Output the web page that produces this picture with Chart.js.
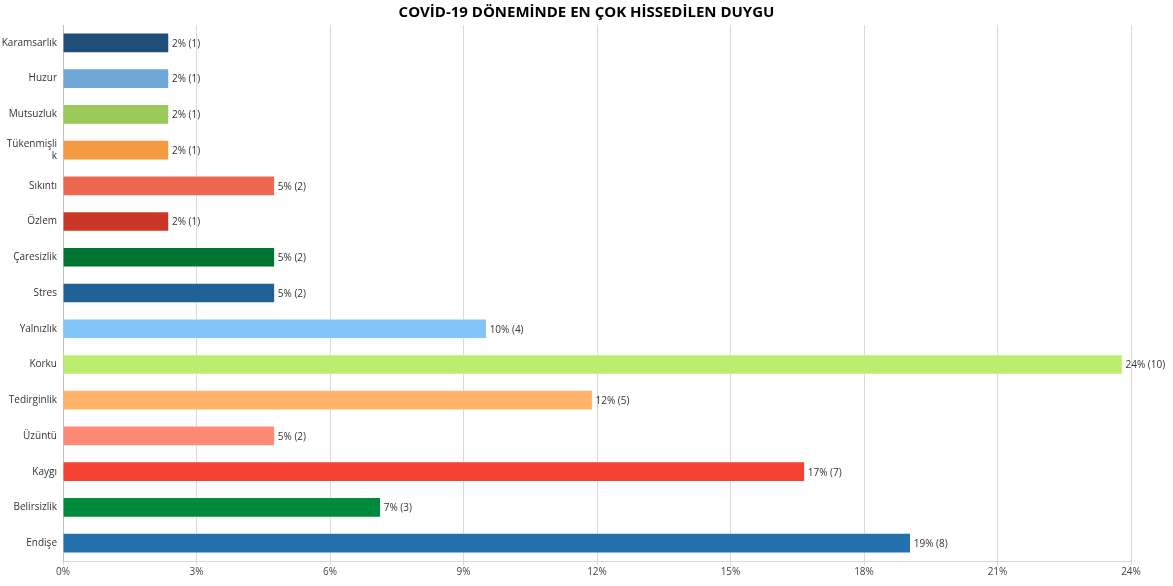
<!DOCTYPE html>
<html lang="tr">
<head>
<meta charset="utf-8">
<title>COVİD-19 Döneminde En Çok Hissedilen Duygu</title>
<script src="https://cdn.jsdelivr.net/npm/chart.js@4"></script>
<style>
  html, body { margin: 0; padding: 0; background: #fff; }
  canvas { display: block; }
</style>
</head>
<body>
<canvas id="grafikDuygu" width="1173" height="586"></canvas>
<script>
const duygular = ['Karamsarlık', 'Huzur', 'Mutsuzluk', ['Tükenmişli', 'k'], 'Sıkıntı', 'Özlem',
  'Çaresizlik', 'Stres', 'Yalnızlık', 'Korku', 'Tedirginlik', 'Üzüntü', 'Kaygı', 'Belirsizlik', 'Endişe'];
const yuzdeler = [2.38, 2.38, 2.38, 2.38, 4.76, 2.38, 4.76, 4.76, 9.52, 23.81, 11.9, 4.76, 16.67, 7.14, 19.05];
const kisiSayisi = [1, 1, 1, 1, 2, 1, 2, 2, 4, 10, 5, 2, 7, 3, 8];
const renkler = ['#1f4e79', '#6fa8d6', '#9bc95a', '#f49a42', '#ee6750', '#cb3727', '#007433', '#206298',
  '#82c5f9', '#bbee6e', '#ffb26a', '#ff8a77', '#f44233', '#008a3e', '#2571b0'];
const eksenTikleri = [0, 3, 6, 9, 12, 15, 18, 21, 24];

const yaziTipi = "'Open Sans', 'Noto Sans', sans-serif";

// bar sonuna "2% (1)" etiketini yazar
const degerEtiketi = {
  id: 'degerEtiketi',
  afterDatasetsDraw(chart) {
    const ctx = chart.ctx;
    const meta = chart.getDatasetMeta(0);
    ctx.save();
    ctx.font = '10px ' + yaziTipi;
    ctx.fillStyle = '#333';
    ctx.textAlign = 'left';
    ctx.textBaseline = 'middle';
    meta.data.forEach((bar, i) => {
      const metin = Math.round(yuzdeler[i]) + '% (' + kisiSayisi[i] + ')';
      ctx.fillText(metin, bar.x + 3, bar.y + 1);
    });
    ctx.restore();
  }
};

const ctx = document.getElementById('grafikDuygu').getContext('2d');

new Chart(ctx, {
  type: 'bar',
  data: {
    labels: duygular,
    datasets: [{
      data: yuzdeler,
      xAxisID: 'x',
      yAxisID: 'y',
      backgroundColor: renkler,
      borderColor: 'rgba(255,255,255,0.45)',
      borderWidth: 1,
      barThickness: 20
    }]
  },
  options: {
    indexAxis: 'y',
    responsive: false,
    animation: false,
    layout: { padding: 0 },
    plugins: {
      legend: { display: false },
      tooltip: { enabled: false },
      title: {
        display: true,
        text: 'COVİD-19 DÖNEMİNDE EN ÇOK HİSSEDİLEN DUYGU',
        color: '#000',
        font: { family: yaziTipi, size: 15, weight: 'bold' },
        padding: { top: 4, bottom: 3 }
      }
    },
    scales: {
      x: {
        min: 0,
        max: 24,
        afterBuildTicks(scale) {
          scale.ticks = eksenTikleri.map(v => ({ value: v }));
        },
        afterFit(scale) { scale.height = 25; },
        ticks: {
          color: '#444',
          font: { family: yaziTipi, size: 10 },
          padding: 1,
          maxRotation: 0,
          callback: v => v + '%'
        },
        grid: { color: '#d9d9d9', lineWidth: 1, tickLength: 4, tickColor: '#d9d9d9' },
        border: { color: '#d9d9d9' }
      },
      y: {
        afterFit(scale) { scale.width = 63; },
        ticks: {
          color: '#333',
          font: { family: yaziTipi, size: 10 },
          padding: 6,
          autoSkip: false
        },
        grid: { display: false, drawTicks: false },
        border: { color: '#c0c0c0' }
      },
      // sağ kenarda boşluk bırakan görünmez eksen
      sagBosluk: {
        type: 'linear',
        position: 'right',
        afterFit(scale) { scale.width = 42; },
        ticks: { display: false },
        grid: { display: false, drawTicks: false },
        border: { display: false }
      }
    }
  },
  plugins: [degerEtiketi]
});
</script>
</body>
</html>
